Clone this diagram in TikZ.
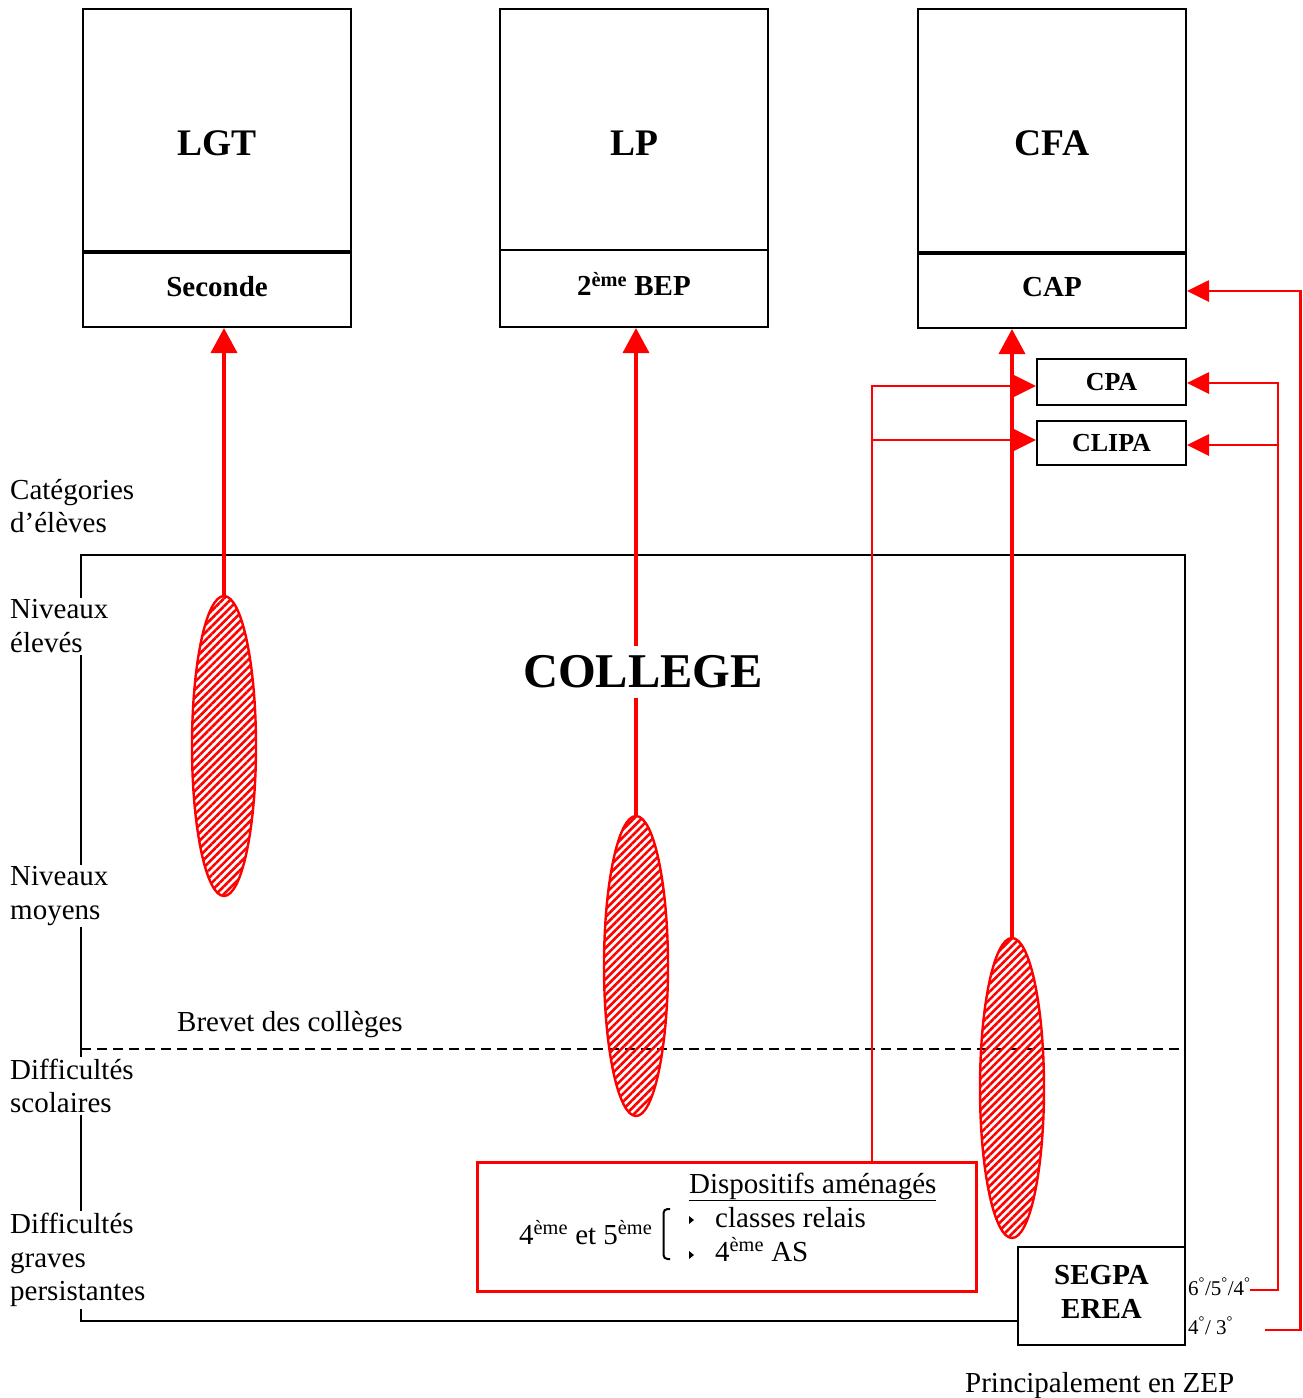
\documentclass[tikz,border=0pt]{standalone}
\usepackage{fontspec}
\setmainfont{Liberation Serif}
\usetikzlibrary{shapes.geometric,arrows.meta,patterns.meta}
\begin{document}
\begin{tikzpicture}[x=1pt,y=-1pt,
 box/.style={draw=black,line width=2pt,inner sep=0pt},
 redarr/.style={draw=red,line width=3.6pt,-{Triangle[length=25pt,width=26pt]}},
 sidearr/.style={draw=red,line width=2.8pt,-{Triangle[length=22pt,width=21pt]}},
 oval/.style={ellipse,draw=red,line width=2.4pt,minimum width=64pt,minimum height=300pt,inner sep=0pt,
   pattern={Lines[angle=45,distance=5.5pt,line width=2.6pt]},pattern color=red},
 big/.style={font=\fontsize{37.5}{40}\selectfont\bfseries},
 mid/.style={font=\fontsize{29}{34}\selectfont\bfseries},
 sm/.style={font=\fontsize{26}{30}\selectfont\bfseries},
 txt/.style={font=\fontsize{29}{33.5}\selectfont, align=left, inner xsep=0pt, inner ysep=2pt},
 lab/.style={txt, fill=white, anchor=west},
 tiny/.style={font=\fontsize{21}{24}\selectfont, inner sep=0pt, anchor=base west},
]
\useasboundingbox (0,0) rectangle (1303,1398);

% top boxes
\node[box,minimum width=268pt,minimum height=242pt] (lgtU) at (217,130) {};
\node[box,minimum width=268pt,minimum height=76pt] (lgtL) at (217,289) {};
\draw[line width=3pt] (lgtU.south west) -- (lgtU.south east);
\node[big] (lgtT) at (217,143) {LGT};
\node[mid] (lgtS) at (217,287) {Seconde};

\node[box,minimum width=268pt,minimum height=241pt] (lpU) at (634,129.5) {};
\node[box,minimum width=268pt,minimum height=77pt] (lpL) at (634,288.5) {};
\node[big] (lpT) at (634,143) {LP};
\node[mid] (lpS) at (634,284) {2\textsuperscript{ème} BEP};

\node[box,minimum width=268pt,minimum height=243pt] (cfaU) at (1052,130.5) {};
\node[box,minimum width=268pt,minimum height=76pt] (cfaL) at (1052,290) {};
\draw[line width=3pt] (cfaU.south west) -- (cfaU.south east);
\node[big] (cfaT) at (1052,143) {CFA};
\node[mid] (cfaS) at (1052,287) {CAP};

\node[box,minimum width=149pt,minimum height=46pt,sm] (cpa) at (1111.5,382) {CPA};
\node[box,minimum width=149pt,minimum height=44pt,sm] (clipa) at (1111.5,443) {CLIPA};

% college frame
\node[box,minimum width=167pt,minimum height=98pt] (segpa) at (1101.5,1296) {};
\node[mid,align=center] (segpaT) at (1101.5,1292) {SEGPA\\EREA};
\coordinate (cBL) at (81,1321);
\coordinate (cTL) at (81,555);
\coordinate (cTR) at (1185,555);
\draw[line width=2pt] (segpa.west |- cBL) -- (cBL) -- (cTL) -- (cTR) -- (cTR |- segpa.north);
\coordinate (dL) at (81,1049);
\coordinate (dR) at (1185,1049);
\draw[line width=2pt,dash pattern=on 10pt off 6pt] (dL) -- (dR);

% left labels
\node[txt,anchor=west] (cat) at (10,506) {Catégories\\d’élèves};
\node[lab] (nive) at (10,626) {Niveaux\\élevés};
\node[lab] (nivm) at (10,896) {Niveaux\\moyens};
\node[lab] (difs) at (10,1086) {Difficultés\\scolaires};
\node[lab] (difg) at (10,1260) {Difficultés\\graves\\persistantes};
\node[txt,anchor=base west] (brevet) at (177,1031) {Brevet des collèges};

% ellipses and arrows
\node[oval] (e1) at (224,746) {};
\node[oval] (e2) at (636,966) {};
\node[oval] (e3) at (1012,1088) {};
\draw[redarr] (e1.north) -- (e1.north |- lgtL.south);
\draw[redarr] (e2.north) -- (e2.north |- lpL.south);
\draw[redarr] (e3.north) -- (e3.north |- cfaL.south);
\node[font=\fontsize{48.5}{50}\selectfont\bfseries, fill=white, inner xsep=2pt, inner ysep=10pt] (college) at (643,672) {COLLEGE};

% dispositifs
\node[draw=red,line width=3pt,minimum width=499pt,minimum height=129pt,inner sep=0pt] (disp) at (726.5,1226.5) {};
\node[txt,anchor=base west] (dtitle) at (689,1193) {\underline{Dispositifs aménagés}};
\node[txt,anchor=base west] (d45) at (519,1244) {4\textsuperscript{ème} et 5\textsuperscript{ème}};
\node[txt,anchor=base west] (dcr) at (715,1227) {classes relais};
\node[txt,anchor=base west] (das) at (715,1261) {4\textsuperscript{ème} AS};
\draw[line width=2pt, rounded corners=4pt] (670,1209) -- (663.5,1209) -- (663.5,1259) -- (670,1259);
\fill (689,1216) -- (694,1220) -- (689,1224) -- cycle;
\fill (689,1251) -- (694,1255) -- (689,1259) -- cycle;

\coordinate (v1) at (872,386);
\coordinate (v2) at (872,440);
\draw[sidearr] (v1 |- disp.north) -- (v1) -- (cpa.west |- v1);
\draw[sidearr] (v2) -- (clipa.west |- v2);

% right side
\node[tiny] (l1) at (1188,1295) {6\textsuperscript{°}/5\textsuperscript{°}/4\textsuperscript{°}};
\node[tiny] (l2) at (1188,1334) {4\textsuperscript{°}/ 3\textsuperscript{°}};
\coordinate (s1) at (1250,1290);
\coordinate (r1b) at (1278,1290);
\coordinate (r1t) at (1278,383);
\coordinate (r1m) at (1278,445);
\draw[sidearr] (s1) -- (r1b) -- (r1t) -- (cpa.east |- r1t);
\draw[sidearr] (r1m) -- (clipa.east |- r1m);
\coordinate (s2) at (1265,1330);
\coordinate (r2b) at (1300.5,1330);
\coordinate (r2t) at (1300.5,291);
\draw[sidearr] (s2) -- (r2b) -- (r2t) -- (cfaL.east |- r2t);

\node[txt,anchor=base west] (zep) at (965,1392) {Principalement en ZEP};
\end{tikzpicture}
\end{document}
